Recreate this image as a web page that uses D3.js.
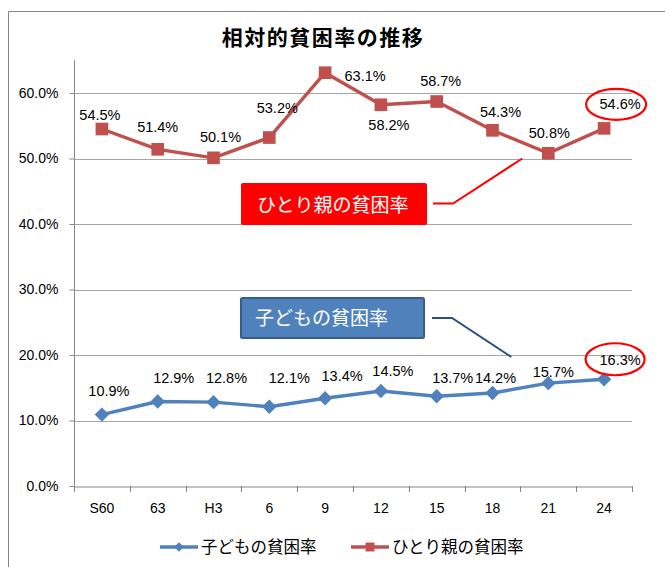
<!DOCTYPE html>
<html><head><meta charset="utf-8">
<script src="https://cdn.jsdelivr.net/npm/d3@7"></script>
<style>
html,body{margin:0;padding:0;background:#fff;}
svg{display:block;}
</style></head>
<body>
<svg id="chart" width="665" height="567"></svg>
<script>
// ---- data ----
const categories = ["S60","63","H3","6","9","12","15","18","21","24"];
const childRate  = [0.109,0.129,0.128,0.121,0.134,0.145,0.137,0.142,0.157,0.163];
const singleRate = [0.545,0.514,0.501,0.532,0.631,0.582,0.587,0.543,0.508,0.546];
const yTicks = [0,0.1,0.2,0.3,0.4,0.5,0.6];
const seriesNames = ["子どもの貧困率","ひとり親の貧困率"];
const title = "相対的貧困率の推移";
// label nudges relative to each point (layout only)
const singleNudge = [[-2,-9],[0,-17],[7,-16],[8,-25],[40,8],[8,25],[4,-16],[8,-13],[1,-15],[16,-19]];
const childNudge  = [[7,-19],[16,-19],[13,-19],[20,-24],[17,-17],[12,-15],[16,-13],[3,-10],[5,-6],[16,-14]];

const svg = d3.select("#chart");
const blue = "#4f81bd", red = "#c0504d";
const numFont = "'Liberation Sans', Arial, sans-serif";
const jpFont = "'Noto Sans CJK JP', 'Noto Sans', sans-serif";

// chart border (extends beyond the picture on the right/bottom)
svg.append("path").attr("d","M8.5,567 L8.5,11.5 L665,11.5")
  .attr("fill","none").attr("stroke","#868686").attr("stroke-width",1);

svg.append("text").attr("x",323).attr("y",45).attr("text-anchor","middle")
  .attr("font-family",jpFont).attr("font-weight","bold").attr("font-size",21)
  .attr("letter-spacing",1.5).attr("fill","#000").text(title);

const x = d3.scaleBand().domain(categories).range([74,632]).padding(0);
const y = d3.scaleLinear().domain([0,0.65]).range([486,60.25]);
const cx = c => x(c) + x.bandwidth()/2;
const pct = d3.format(".1%");

// gridlines
svg.append("g").selectAll("line").data(yTicks.filter(t=>t>0)).join("line")
  .attr("x1",74).attr("x2",632)
  .attr("y1",d=>Math.round(y(d))+0.5).attr("y2",d=>Math.round(y(d))+0.5)
  .attr("stroke","#a6a6a6").attr("stroke-width",1);

// y axis
const yAxis = svg.append("g").attr("transform","translate(74.5,0)")
  .call(d3.axisLeft(y).tickValues(yTicks).tickFormat(pct).tickSize(5).tickPadding(11));
yAxis.select(".domain").attr("stroke","#868686").attr("d","M0,60.25V486");
yAxis.selectAll(".tick line").attr("stroke","#868686");
yAxis.selectAll("text").attr("font-family",numFont).attr("font-size",14).attr("fill","#000");

// x axis
const xAxis = svg.append("g").attr("transform","translate(0,486.5)")
  .call(d3.axisBottom(x).tickSize(0).tickPadding(17));
xAxis.select(".domain").attr("stroke","#868686");
xAxis.selectAll("text").attr("font-family",numFont).attr("font-size",14).attr("fill","#000");
svg.append("g").selectAll("line").data(categories.concat(["__end"])).join("line")
  .attr("x1",(d,i)=>Math.round(74 + i*x.bandwidth())+0.5)
  .attr("x2",(d,i)=>Math.round(74 + i*x.bandwidth())+0.5)
  .attr("y1",486).attr("y2",492).attr("stroke","#868686");

// series lines
const line = d3.line().x((d,i)=>cx(categories[i])).y(d=>y(d));
svg.append("path").datum(childRate).attr("d",line).attr("fill","none")
  .attr("stroke",blue).attr("stroke-width",3.4).attr("stroke-linejoin","round");
svg.append("path").datum(singleRate).attr("d",line).attr("fill","none")
  .attr("stroke",red).attr("stroke-width",3.4).attr("stroke-linejoin","round");

const diamond = d3.symbol().type(d3.symbolDiamond2).size(100);
const square = d3.symbol().type(d3.symbolSquare).size(160);

svg.append("g").selectAll("path").data(childRate).join("path")
  .attr("d",diamond()).attr("transform",(d,i)=>`translate(${cx(categories[i])},${y(d)}) scale(1.15,1.15)`)
  .attr("fill",blue);
svg.append("g").selectAll("path").data(singleRate).join("path")
  .attr("d",square()).attr("transform",(d,i)=>`translate(${cx(categories[i])},${y(d)})`)
  .attr("fill",red);

// data labels
function labels(data,nudge){
  svg.append("g").selectAll("text").data(data).join("text")
    .attr("x",(d,i)=>cx(categories[i])+nudge[i][0])
    .attr("y",(d,i)=>y(d)+nudge[i][1])
    .attr("text-anchor","middle").attr("font-family",numFont).attr("font-size",14.5)
    .attr("fill","#000").text(d=>pct(d));
}
labels(singleRate,singleNudge);
labels(childRate,childNudge);

// highlight ellipses around latest values
const last = categories.length-1;
svg.append("ellipse").attr("cx",cx(categories[last])+12).attr("cy",y(singleRate[last])-24)
  .attr("rx",30).attr("ry",15.5).attr("fill","none").attr("stroke","#ff0000").attr("stroke-width",2.2);
svg.append("ellipse").attr("cx",cx(categories[last])+11).attr("cy",y(childRate[last])-20)
  .attr("rx",29.5).attr("ry",16).attr("fill","none").attr("stroke","#ff0000").attr("stroke-width",2.2);

// callouts
svg.append("path").attr("d",`M433,203.5 H453 L${cx(categories[8])-26},${y(0.5)}`)
  .attr("fill","none").attr("stroke","#ff0000").attr("stroke-width",2);
svg.append("rect").attr("x",241).attr("y",183).attr("width",186).attr("height",42).attr("rx",2)
  .attr("fill","#ff0000");
svg.append("text").attr("x",257).attr("y",211.5).attr("font-family",jpFont).attr("font-size",19)
  .attr("fill","#fff").text(seriesNames[1]);

svg.append("path").attr("d",`M432,318 H452 L${cx(categories[8])-37},${y(0.197)}`)
  .attr("fill","none").attr("stroke","#2a4f7d").attr("stroke-width",2);
svg.append("rect").attr("x",241).attr("y",298).attr("width",183).attr("height",40).attr("rx",1.5)
  .attr("fill",blue).attr("stroke","#385d8a").attr("stroke-width",2);
svg.append("text").attr("x",255).attr("y",325).attr("font-family",jpFont).attr("font-size",19)
  .attr("fill","#fff").text(seriesNames[0]);

// legend
const leg = svg.append("g");
const legItems = [{name:seriesNames[0],color:blue,sym:diamond,x:160},{name:seriesNames[1],color:red,sym:square,x:351}];
legItems.forEach(it=>{
  leg.append("line").attr("x1",it.x).attr("x2",it.x+38).attr("y1",547).attr("y2",547)
    .attr("stroke",it.color).attr("stroke-width",3.4);
  leg.append("path").attr("d",it.sym===diamond?d3.symbol().type(d3.symbolDiamond2).size(60)():d3.symbol().type(d3.symbolSquare).size(80)())
    .attr("transform",`translate(${it.x+19},547)`).attr("fill",it.color);
  leg.append("text").attr("x",it.x+41).attr("y",553).attr("font-family",jpFont).attr("font-size",16.5)
    .attr("fill","#000").text(it.name);
});
</script>
</body></html>
